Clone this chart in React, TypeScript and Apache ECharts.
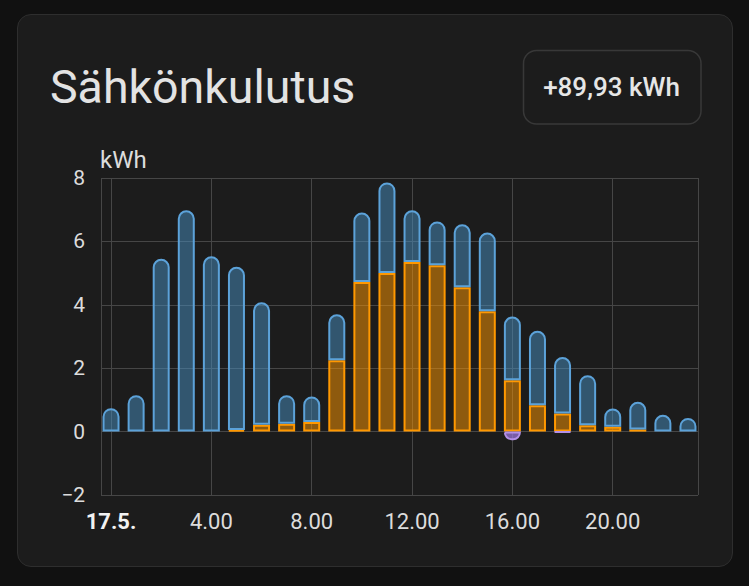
import React, { useEffect, useRef } from "react";
import * as echarts from "echarts";

// ---- data ----
const hourLabels = ["0", "1", "2", "3", "4", "5", "6", "7", "8", "9", "10", "11", "12", "13", "14", "15", "16", "17", "18", "19", "20", "21", "22", "23"];
const fromSolar = [null, null, null, null, null, 0.05, 0.22, 0.25, 0.3, 2.25, 4.72, 5.0, 5.35, 5.25, 4.55, 3.8, 1.62, 0.83, 0.57, 0.2, 0.15, 0.07, null, null];
const fromGrid = [0.74, 1.15, 5.45, 6.98, 5.53, 5.15, 3.86, 0.9, 0.81, 1.45, 2.19, 2.86, 1.63, 1.38, 1.99, 2.48, 2.01, 2.35, 1.78, 1.58, 0.58, 0.87, 0.53, 0.43];
const toGrid = [null, null, null, null, null, null, null, null, null, null, null, null, null, null, null, null, -0.27, null, -0.03, null, null, null, null, null];
const yMin = -2;
const yMax = 8;
const yStep = 2;
const xMin = -0.4;
const xMax = 23.4;
const xStep = 4;
const dayLabel = "17.5.";
const titleText = "Sähkönkulutus";
const totalText = "+89,93 kWh";
const unitText = "kWh";

export default function App() {
  const ref = useRef<HTMLDivElement>(null);
  useEffect(() => {
    if (!ref.current) return;
    const chart = echarts.init(ref.current, undefined, { renderer: "svg" });
    const font = "Roboto";
    const W = 749;
    const plotL = 101;
    const plotR = 698;
    const pxPerHour = (plotR - plotL) / (xMax - xMin);
    const zeroX = plotL + (0 - xMin) * pxPerHour;
    const catL = zeroX - pxPerHour / 2;
    const catR = catL + pxPerHour * hourLabels.length;
    chart.setOption({
      animation: false,
      backgroundColor: "transparent",
      textStyle: { fontFamily: font },
      graphic: [
        {
          type: "text",
          x: 50,
          y: 87,
          style: { text: titleText, fontSize: 46.5, fontFamily: font, fill: "#e3e3e3", verticalAlign: "middle", align: "left" },
        },
        {
          type: "rect",
          shape: { x: 523.5, y: 50.5, width: 177.5, height: 73.5, r: 13 },
          style: { fill: "#1c1c1c", stroke: "#383838", lineWidth: 1.5 },
        },
        {
          type: "text",
          x: 611.5,
          y: 86.5,
          style: { text: totalText, fontSize: 26, fontWeight: 500, fontFamily: font, fill: "#e6e6e6", verticalAlign: "middle", align: "center" },
        },
        {
          type: "text",
          x: 100,
          y: 160,
          style: { text: unitText, fontSize: 24, fontFamily: font, fill: "#dcdcdc", verticalAlign: "middle", align: "left" },
        },
      ],
      grid: [
        { left: plotL, right: W - plotR, top: 178, bottom: 91, containLabel: false, outerBoundsMode: "none" },
        { left: catL, right: W - catR, top: 178, bottom: 91, containLabel: false, outerBoundsMode: "none" },
      ],
      xAxis: [
        {
          type: "value",
          gridIndex: 0,
          min: xMin,
          max: xMax,
          minInterval: xStep,
          maxInterval: xStep,
          axisLine: { show: false },
          axisTick: { show: false },
          splitLine: { show: true, lineStyle: { color: "#464646", width: 1 } },
          axisLabel: {
            showMinLabel: false,
            showMaxLabel: false,
            color: "#dcdcdc",
            fontSize: 22,
            fontFamily: font,
            margin: 15,
            formatter: (v: number) => (v === 0 ? `{b|${dayLabel}}` : `${v}.00`),
            rich: { b: { fontWeight: "bold", fontSize: 22, color: "#f2f2f2", fontFamily: font } },
          },
        },
        {
          type: "category",
          gridIndex: 1,
          data: hourLabels,
          boundaryGap: true,
          show: false,
        },
      ],
      yAxis: [
        {
          type: "value",
          gridIndex: 0,
          min: yMin,
          max: yMax,
          interval: yStep,
          axisLine: { show: false },
          axisTick: { show: false },
          splitLine: { show: true, lineStyle: { color: "#464646", width: 1 } },
          axisLabel: {
            color: "#dcdcdc",
            fontSize: 21,
            fontFamily: font,
            margin: 16,
            formatter: (v: number) => String(v).replace("-", "\u2212"),
          },
        },
        {
          type: "value",
          gridIndex: 1,
          min: yMin,
          max: yMax,
          interval: yStep,
          show: false,
          splitLine: { show: false },
        },
      ],
      series: [
        {
          name: "solar",
          type: "bar",
          stack: "use",
          xAxisIndex: 1,
          yAxisIndex: 1,
          barWidth: 17,
          data: fromSolar,
          itemStyle: { color: "rgba(255,152,0,0.5)", borderColor: "#ff9800", borderWidth: 2 },
        },
        {
          name: "grid",
          type: "bar",
          stack: "use",
          xAxisIndex: 1,
          yAxisIndex: 1,
          barWidth: 17,
          data: fromGrid,
          itemStyle: { color: "rgba(72,143,194,0.5)", borderColor: "#5ca2d9", borderWidth: 2, borderRadius: [9, 9, 0, 0] },
        },
        {
          name: "return",
          type: "bar",
          stack: "use",
          xAxisIndex: 1,
          yAxisIndex: 1,
          barWidth: 17,
          data: toGrid,
          itemStyle: { color: "rgba(160,120,225,0.7)", borderColor: "#b28fe6", borderWidth: 2, borderRadius: [0, 0, 9, 9] },
        },
      ],
    });
    return () => chart.dispose();
  }, []);

  return (
    <div style={{ position: "fixed", left: 0, top: 0, width: 749, height: 586, background: "#111111" }}>
      <div
        style={{
          position: "absolute",
          left: 17,
          top: 14,
          width: 716,
          height: 553,
          boxSizing: "border-box",
          background: "#1c1c1c",
          border: "1.5px solid #2e2e2e",
          borderRadius: 14,
        }}
      />
      <div ref={ref} style={{ position: "absolute", left: 0, top: 0, width: 749, height: 586 }} />
    </div>
  );
}
